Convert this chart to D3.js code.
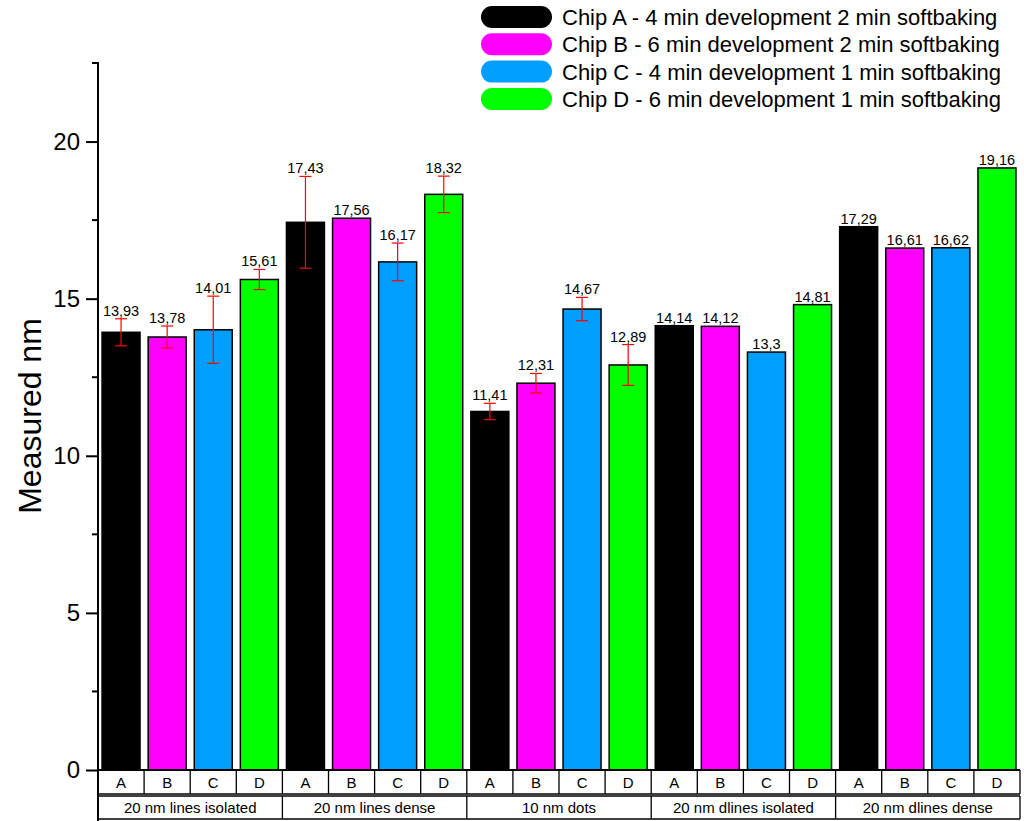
<!DOCTYPE html>
<html>
<head>
<meta charset="utf-8">
<script src="https://cdn.jsdelivr.net/npm/d3@7"></script>
<style>
  html, body { margin: 0; padding: 0; background: #fff; }
  svg { display: block; font-family: "Liberation Sans", Arial, sans-serif; }
</style>
</head>
<body>
<svg id="chart" width="1024" height="821"></svg>
<script>
// Sample groups and chips
const groups = ["20 nm lines isolated", "20 nm lines dense", "10 nm dots", "20 nm dlines isolated", "20 nm dlines dense"];
const chips = ["A", "B", "C", "D"];
const chipNames = [
  "Chip A - 4 min development 2 min softbaking",
  "Chip B - 6 min development 2 min softbaking",
  "Chip C - 4 min development 1 min softbaking",
  "Chip D - 6 min development 1 min softbaking"
];
const chipColors = ["#000000", "#ff00ff", "#009fff", "#00ff00"];

// Mean measured width (nm) per chip, one value per group
const chipA = [13.93, 17.43, 11.41, 14.14, 17.29];
const chipB = [13.78, 17.56, 12.31, 14.12, 16.61];
const chipC = [14.01, 16.17, 14.67, 13.3, 16.62];
const chipD = [15.61, 18.32, 12.89, 14.81, 19.16];

// Standard deviation per chip (null where not measured)
const errA = [0.43, 1.46, 0.26, null, null];
const errB = [0.35, null, 0.31, null, null];
const errC = [1.07, 0.60, 0.37, null, null];
const errD = [0.32, 0.58, 0.65, null, null];

const majorTicks = [0, 5, 10, 15, 20];
const minorTicks = [2.5, 7.5, 12.5, 17.5, 22.5];

const series = [chipA, chipB, chipC, chipD];
const errors = [errA, errB, errC, errD];

const rows = [];
groups.forEach((g, gi) => {
  chips.forEach((c, ci) => {
    rows.push({ group: g, chip: c, ci, value: series[ci][gi], err: errors[ci][gi] });
  });
});

const svg = d3.select("#chart");
const plotLeft = 98, plotRight = 1020, plotTop = 63, plotBottom = 770;

const x0 = d3.scaleBand().domain(groups).range([plotLeft, plotRight]).padding(0);
const pad = 0.176;
const x1 = d3.scaleBand().domain(chips).range([0, x0.bandwidth()])
  .paddingInner(pad).paddingOuter(pad / 2);
const y = d3.scaleLinear().domain([0, 22.5]).range([plotBottom, plotTop]);

// Bars
svg.append("g").selectAll("rect").data(rows).join("rect")
  .attr("x", d => x0(d.group) + x1(d.chip))
  .attr("y", d => y(d.value))
  .attr("width", x1.bandwidth())
  .attr("height", d => y(0) - y(d.value))
  .attr("fill", d => chipColors[d.ci])
  .attr("stroke", "#000")
  .attr("stroke-width", 1.5);

// Error bars
const eb = svg.append("g").attr("stroke", "#ff0000").attr("stroke-width", 1.2);
rows.filter(d => d.err != null).forEach(d => {
  const cx = x0(d.group) + x1(d.chip) + x1.bandwidth() / 2;
  const y1 = y(d.value + d.err), y2 = y(d.value - d.err);
  eb.append("line").attr("x1", cx).attr("x2", cx).attr("y1", y1).attr("y2", y2);
  [y1, y2].forEach(yy => eb.append("line")
    .attr("x1", cx - 6).attr("x2", cx + 6).attr("y1", yy).attr("y2", yy));
});

// Value labels
svg.append("g").selectAll("text").data(rows).join("text")
  .attr("x", d => x0(d.group) + x1(d.chip) + x1.bandwidth() / 2)
  .attr("y", d => y(d.value + (d.err || 0)) - 3)
  .attr("text-anchor", "middle")
  .attr("font-size", 14.5)
  .attr("fill", "#000")
  .text(d => String(d.value).replace(".", ","));

// Y axis
const yAxis = svg.append("g").attr("transform", `translate(${plotLeft},0)`);
yAxis.call(d3.axisLeft(y).tickValues(majorTicks).tickSize(12).tickSizeOuter(0).tickPadding(6))
  .call(g => g.select(".domain").remove())
  .call(g => g.selectAll(".tick line").attr("stroke", "#000").attr("stroke-width", 2))
  .call(g => g.selectAll(".tick text").attr("font-size", 24).attr("fill", "#000")
    .attr("font-family", "Liberation Sans, Arial, sans-serif"));
yAxis.selectAll(".minor").data(minorTicks).join("line")
  .attr("class", "minor")
  .attr("x1", -6).attr("x2", 0)
  .attr("y1", d => y(d)).attr("y2", d => y(d))
  .attr("stroke", "#000").attr("stroke-width", 2);
yAxis.append("line").attr("x1", 0).attr("x2", 0).attr("y1", plotTop - 1).attr("y2", 821)
  .attr("stroke", "#000").attr("stroke-width", 2);

svg.append("text")
  .attr("transform", "translate(41,416) rotate(-90)")
  .attr("text-anchor", "middle")
  .attr("font-size", 32)
  .attr("fill", "#000")
  .text("Measured nm");

// Category table below the axis
const row1Top = plotBottom, row1Bot = 794, row2Top = 796, row2Bot = 819;
const tbl = svg.append("g").attr("stroke", "#000");
tbl.append("line").attr("x1", plotLeft).attr("x2", plotRight).attr("y1", row1Top).attr("y2", row1Top).attr("stroke-width", 2);
[row1Bot, row2Top, row2Bot].forEach(yy =>
  tbl.append("line").attr("x1", plotLeft).attr("x2", plotRight).attr("y1", yy).attr("y2", yy).attr("stroke-width", 1.3));
groups.forEach(g => {
  chips.forEach((c, ci) => {
    const bx = x0(g) + x0.bandwidth() * ci / chips.length;
    if (bx > plotLeft + 1) tbl.append("line").attr("x1", bx).attr("x2", bx)
      .attr("y1", row1Top).attr("y2", row1Bot).attr("stroke-width", 1.3);
  });
  const gx = x0(g);
  if (gx > plotLeft + 1) tbl.append("line").attr("x1", gx).attr("x2", gx)
    .attr("y1", row2Top).attr("y2", row2Bot).attr("stroke-width", 1.3);
});
[row1Top, row2Top].forEach((t, i) => tbl.append("line")
  .attr("x1", plotRight).attr("x2", plotRight).attr("y1", t).attr("y2", i ? row2Bot : row1Bot).attr("stroke-width", 1.3));

svg.append("g").selectAll("text").data(rows).join("text")
  .attr("x", d => x0(d.group) + x1(d.chip) + x1.bandwidth() / 2)
  .attr("y", row1Bot - 6)
  .attr("text-anchor", "middle").attr("font-size", 15).attr("fill", "#000")
  .text(d => d.chip);

svg.append("g").selectAll("text").data(groups).join("text")
  .attr("x", d => x0(d) + x0.bandwidth() / 2)
  .attr("y", row2Bot - 6)
  .attr("text-anchor", "middle").attr("font-size", 15).attr("fill", "#000")
  .text(d => d);

// Legend
const lg = svg.append("g").attr("transform", "translate(481,6)");
chipNames.forEach((name, i) => {
  const row = lg.append("g").attr("transform", `translate(0,${i * 27.3})`);
  row.append("rect").attr("x", 0).attr("y", 0).attr("width", 71).attr("height", 22)
    .attr("rx", 11).attr("ry", 11).attr("fill", chipColors[i]);
  row.append("text").attr("x", 81).attr("y", 19)
    .attr("font-size", 22).attr("fill", "#000").text(name);
});
</script>
</body>
</html>
